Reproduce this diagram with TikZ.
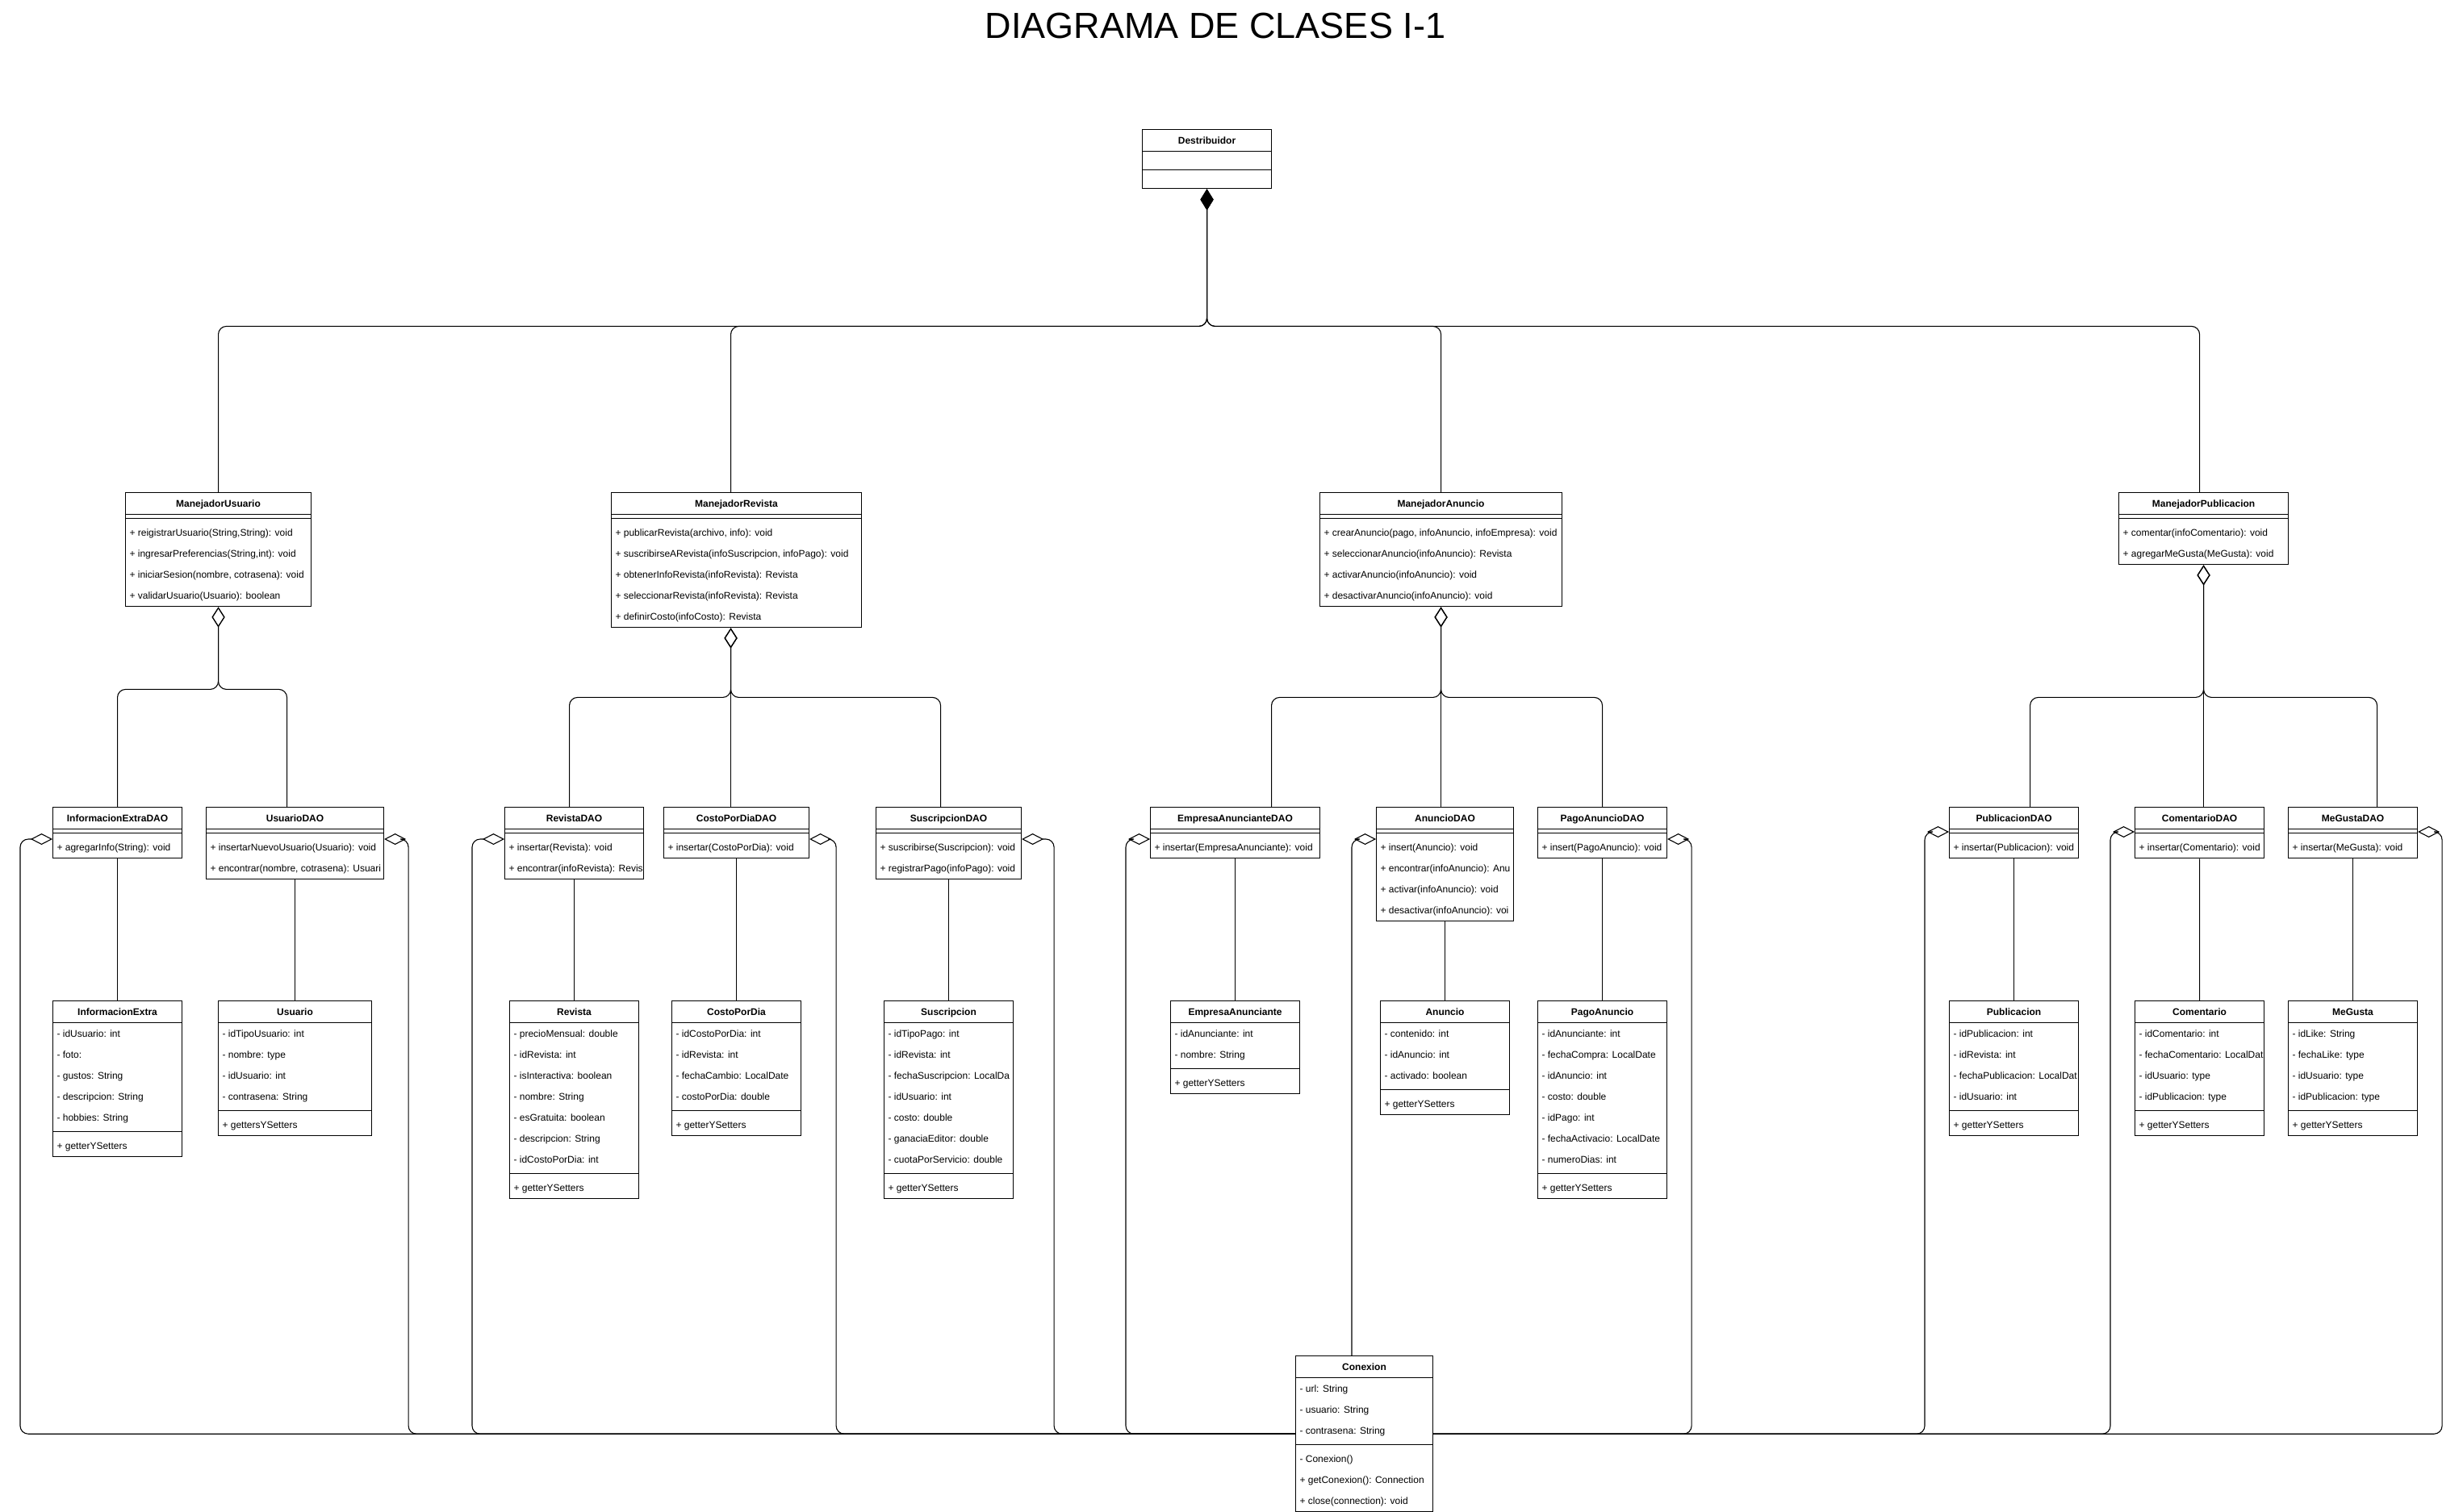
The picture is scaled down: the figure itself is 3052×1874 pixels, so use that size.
\documentclass[tikz,border=0pt]{standalone}
\usepackage{fontspec}
\setmainfont{Liberation Sans}
\usepackage{tikz}
\usetikzlibrary{arrows.meta, positioning, shapes.multipart, calc}

% row heights of a class box: 26 per row, 4 of padding at each side of the separator
\newcommand{\rowstrut}{\rule[-9pt]{0pt}{26pt}}
\newcommand{\firststrut}{\rule[-9pt]{0pt}{30pt}}
\newcommand{\laststrut}{\rule[-13pt]{0pt}{30pt}}
\newcommand{\sepstrut}{\rule{0pt}{4pt}}

\tikzset{
  class/.style={draw, line width=1.1pt, rectangle split, rectangle split parts=3,
    rectangle split ignore empty parts=false,
    rectangle split part align={center, left, left},
    align=left, anchor=north west, inner xsep=5pt, inner ysep=0pt,
    font=\fontsize{12pt}{26pt}\selectfont},
  link/.style={line width=1.1pt},
  bus/.style={link, rounded corners=10pt},
  aggregation/.style={bus, {Diamond[open, length=25pt, width=16pt]}-},
  daoagg/.style={bus, {Diamond[open, length=27pt, width=14pt]}-},
  composition/.style={bus, {Diamond[length=26pt, width=16pt]}-},
}

\begin{document}
\begin{tikzpicture}[x=1pt, y=-1pt]
  \useasboundingbox (0,0) rectangle (3052,1874);
  \node[font=\fontsize{45pt}{50pt}\selectfont, anchor=base] (title) at (1506,47) {DIAGRAMA DE CLASES I-1};

  \node[class, minimum width=160pt] (des) at (1415,160) {\textbf{Destribuidor}\rowstrut
    \nodepart{two}\rule{0pt}{22pt} \nodepart{three}\rule{0pt}{22pt}};

  % managers
  \node[class, minimum width=230pt] (mu) at (155,610) {\textbf{ManejadorUsuario}\rowstrut
    \nodepart{two}\sepstrut
    \nodepart{three}\firststrut + reigistrarUsuario(String,String): void\\
      + ingresarPreferencias(String,int): void\\
      + iniciarSesion(nombre, cotrasena): void\\
      + validarUsuario(Usuario): boolean\rowstrut};
  \node[class, minimum width=310pt] (mr) at (757,610) {\textbf{ManejadorRevista}\rowstrut
    \nodepart{two}\sepstrut
    \nodepart{three}\firststrut + publicarRevista(archivo, info): void\\
      + suscribirseARevista(infoSuscripcion, infoPago): void\\
      + obtenerInfoRevista(infoRevista): Revista\\
      + seleccionarRevista(infoRevista): Revista\\
      + definirCosto(infoCosto): Revista\rowstrut};
  \node[class, minimum width=300pt] (ma) at (1635,610) {\textbf{ManejadorAnuncio}\rowstrut
    \nodepart{two}\sepstrut
    \nodepart{three}\firststrut + crearAnuncio(pago, infoAnuncio, infoEmpresa): void\\
      + seleccionarAnuncio(infoAnuncio): Revista\\
      + activarAnuncio(infoAnuncio): void\\
      + desactivarAnuncio(infoAnuncio): void\rowstrut};
  \node[class, minimum width=210pt] (mp) at (2625,610) {\textbf{ManejadorPublicacion}\rowstrut
    \nodepart{two}\sepstrut
    \nodepart{three}\firststrut + comentar(infoComentario): void\\
      + agregarMeGusta(MeGusta): void\rowstrut};

  % DAOs
  \node[class, minimum width=160pt] (ied) at (65,1000) {\textbf{InformacionExtraDAO}\rowstrut
    \nodepart{two}\sepstrut \nodepart{three}\firststrut + agregarInfo(String): void};
  \node[class, minimum width=220pt] (ud) at (255,1000) {\textbf{UsuarioDAO}\rowstrut
    \nodepart{two}\sepstrut
    \nodepart{three}\firststrut + insertarNuevoUsuario(Usuario): void\\
      \rlap{+ encontrar(nombre, cotrasena): Usuari}\rowstrut};
  \node[class, minimum width=172pt] (rd) at (625,1000) {\textbf{RevistaDAO}\rowstrut
    \nodepart{two}\sepstrut
    \nodepart{three}\firststrut + insertar(Revista): void\\
      \rlap{+ encontrar(infoRevista): Revis}\rowstrut};
  \node[class, minimum width=180pt] (cd) at (822,1000) {\textbf{CostoPorDiaDAO}\rowstrut
    \nodepart{two}\sepstrut \nodepart{three}\firststrut + insertar(CostoPorDia): void};
  \node[class, minimum width=180pt] (sd) at (1085,1000) {\textbf{SuscripcionDAO}\rowstrut
    \nodepart{two}\sepstrut
    \nodepart{three}\firststrut + suscribirse(Suscripcion): void\\
      + registrarPago(infoPago): void\rowstrut};
  \node[class, minimum width=210pt] (ead) at (1425,1000) {\textbf{EmpresaAnuncianteDAO}\rowstrut
    \nodepart{two}\sepstrut \nodepart{three}\firststrut + insertar(EmpresaAnunciante): void};
  \node[class, minimum width=170pt] (ad) at (1705,1000) {\textbf{AnuncioDAO}\rowstrut
    \nodepart{two}\sepstrut
    \nodepart{three}\firststrut + insert(Anuncio): void\\
      \rlap{+ encontrar(infoAnuncio): Anu}\\
      + activar(infoAnuncio): void\\
      \rlap{+ desactivar(infoAnuncio): voi}\rowstrut};
  \node[class, minimum width=160pt] (pad) at (1905,1000) {\textbf{PagoAnuncioDAO}\rowstrut
    \nodepart{two}\sepstrut \nodepart{three}\firststrut + insert(PagoAnuncio): void};
  \node[class, minimum width=160pt] (pd) at (2415,1000) {\textbf{PublicacionDAO}\rowstrut
    \nodepart{two}\sepstrut \nodepart{three}\firststrut + insertar(Publicacion): void};
  \node[class, minimum width=160pt] (cod) at (2645,1000) {\textbf{ComentarioDAO}\rowstrut
    \nodepart{two}\sepstrut \nodepart{three}\firststrut + insertar(Comentario): void};
  \node[class, minimum width=160pt] (mgd) at (2835,1000) {\textbf{MeGustaDAO}\rowstrut
    \nodepart{two}\sepstrut \nodepart{three}\firststrut + insertar(MeGusta): void};

  % entities
  \node[class, minimum width=160pt] (ie) at (65,1240) {\textbf{InformacionExtra}\rowstrut
    \nodepart{two}\rowstrut - idUsuario: int\\ - foto:\\ - gustos: String\\
      - descripcion: String\\ - hobbies: String\laststrut
    \nodepart{three}\firststrut + getterYSetters};
  \node[class, minimum width=190pt] (u) at (270,1240) {\textbf{Usuario}\rowstrut
    \nodepart{two}\rowstrut - idTipoUsuario: int\\ - nombre: type\\ - idUsuario: int\\
      - contrasena: String\laststrut
    \nodepart{three}\firststrut + gettersYSetters};
  \node[class, minimum width=160pt] (r) at (631,1240) {\textbf{Revista}\rowstrut
    \nodepart{two}\rowstrut - precioMensual: double\\ - idRevista: int\\ - isInteractiva: boolean\\
      - nombre: String\\ - esGratuita: boolean\\ - descripcion: String\\ - idCostoPorDia: int\laststrut
    \nodepart{three}\firststrut + getterYSetters};
  \node[class, minimum width=160pt] (c) at (832,1240) {\textbf{CostoPorDia}\rowstrut
    \nodepart{two}\rowstrut - idCostoPorDia: int\\ - idRevista: int\\ - fechaCambio: LocalDate\\
      - costoPorDia: double\laststrut
    \nodepart{three}\firststrut + getterYSetters};
  \node[class, minimum width=160pt] (s) at (1095,1240) {\textbf{Suscripcion}\rowstrut
    \nodepart{two}\rowstrut - idTipoPago: int\\ - idRevista: int\\ \rlap{- fechaSuscripcion: LocalDa}\\
      - idUsuario: int\\ - costo: double\\ - ganaciaEditor: double\\ - cuotaPorServicio: double\laststrut
    \nodepart{three}\firststrut + getterYSetters};
  \node[class, minimum width=160pt] (ea) at (1450,1240) {\textbf{EmpresaAnunciante}\rowstrut
    \nodepart{two}\rowstrut - idAnunciante: int\\ - nombre: String\laststrut
    \nodepart{three}\firststrut + getterYSetters};
  \node[class, minimum width=160pt] (an) at (1710,1240) {\textbf{Anuncio}\rowstrut
    \nodepart{two}\rowstrut - contenido: int\\ - idAnuncio: int\\ - activado: boolean\laststrut
    \nodepart{three}\firststrut + getterYSetters};
  \node[class, minimum width=160pt] (pa) at (1905,1240) {\textbf{PagoAnuncio}\rowstrut
    \nodepart{two}\rowstrut - idAnunciante: int\\ - fechaCompra: LocalDate\\ - idAnuncio: int\\
      - costo: double\\ - idPago: int\\ - fechaActivacio: LocalDate\\ - numeroDias: int\laststrut
    \nodepart{three}\firststrut + getterYSetters};
  \node[class, minimum width=160pt] (p) at (2415,1240) {\textbf{Publicacion}\rowstrut
    \nodepart{two}\rowstrut - idPublicacion: int\\ - idRevista: int\\ \rlap{- fechaPublicacion: LocalDat}\\
      - idUsuario: int\laststrut
    \nodepart{three}\firststrut + getterYSetters};
  \node[class, minimum width=160pt] (co) at (2645,1240) {\textbf{Comentario}\rowstrut
    \nodepart{two}\rowstrut - idComentario: int\\ \rlap{- fechaComentario: LocalDat}\\ - idUsuario: type\\
      - idPublicacion: type\laststrut
    \nodepart{three}\firststrut + getterYSetters};
  \node[class, minimum width=160pt] (mg) at (2835,1240) {\textbf{MeGusta}\rowstrut
    \nodepart{two}\rowstrut - idLike: String\\ - fechaLike: type\\ - idUsuario: type\\
      - idPublicacion: type\laststrut
    \nodepart{three}\firststrut + getterYSetters};

  \node[class, minimum width=170pt] (cx) at (1605,1680) {\textbf{Conexion}\rowstrut
    \nodepart{two}\rowstrut - url: String\\ - usuario: String\\ - contrasena: String\laststrut
    \nodepart{three}\firststrut - Conexion()\\ + getConexion(): Connection\\
      + close(connection): void\rowstrut};

  % Destribuidor -> managers
  \draw[composition] (des.south) -- ++(0,170) -| (mu.north);
  \draw[composition] (des.south) -- ++(0,170) -| ([xshift=-7pt]mr.north);
  \draw[composition] (des.south) -- ++(0,170) -| (ma.north);
  \draw[composition] (des.south) -- ++(0,170) -| ([xshift=-5pt]mp.north);

  % managers -> DAOs
  \draw[aggregation] (mu.south) -- ++(0,102) -| (ied.north);
  \draw[aggregation] (mu.south) -- ++(0,102) -| ([xshift=-10pt]ud.north);
  \draw[aggregation] ([xshift=-7pt]mr.south) -- ++(0,86) -| ([xshift=-6pt]rd.north);
  \draw[aggregation] ([xshift=-7pt]mr.south) -- ([xshift=-7pt]mr.south |- cd.north);
  \draw[aggregation] ([xshift=-7pt]mr.south) -- ++(0,86) -| ([xshift=-10pt]sd.north);
  \draw[aggregation] (ma.south) -- ++(0,112) -| ([xshift=45pt]ead.north);
  \draw[aggregation] (ma.south) -- (ma.south |- ad.north);
  \draw[aggregation] (ma.south) -- ++(0,112) -| (pad.north);
  \draw[aggregation] (mp.south) -- ++(0,164) -| ([xshift=20pt]pd.north);
  \draw[aggregation] (mp.south) -- (mp.south |- cod.north);
  \draw[aggregation] (mp.south) -- ++(0,164) -| ([xshift=30pt]mgd.north);

  % DAOs -> entities
  \draw[link] (ied.south) -- (ie.north);
  \draw[link] (ud.south) -- (u.north);
  \draw[link] (rd.south) -- (r.north);
  \draw[link] (cd.south) -- (c.north);
  \draw[link] (sd.south) -- (s.north);
  \draw[link] (ead.south) -- (ea.north);
  \draw[link] (ad.south) -- (an.north);
  \draw[link] (pad.south) -- (pa.north);
  \draw[link] (pd.south) -- (p.north);
  \draw[link] (cod.south) -- (co.north);
  \draw[link] (mgd.south) -- (mg.north);

  % DAOs -> Conexion
  \draw[daoagg] ([yshift=-40pt]ied.north west) -- ++(-40,0) |- (cx.west);
  \draw[daoagg] ([yshift=-40pt]ud.north east) -- ++(30,0) |- (cx.west);
  \draw[daoagg] ([yshift=-40pt]rd.north west) -- ++(-40,0) |- (cx.west);
  \draw[daoagg] ([yshift=-40pt]cd.north east) -- ++(33,0) |- (cx.west);
  \draw[daoagg] ([yshift=-40pt]sd.north east) -- ++(40,0) |- (cx.west);
  \draw[daoagg] ([yshift=-40pt]ead.north west) -- ++(-30,0) |- (cx.west);
  \draw[daoagg] ([yshift=-40pt]ad.north west) -| ([xshift=70pt]cx.north west);
  \draw[daoagg] ([yshift=-40pt]pad.north east) -- ++(30,0) |- (cx.east);
  \draw[daoagg] ([yshift=-31pt]pd.north west) -- ++(-30,0) |- (cx.east);
  \draw[daoagg] ([yshift=-31pt]cod.north west) -- ++(-30,0) |- (cx.east);
  \draw[daoagg] ([yshift=-31pt]mgd.north east) -- ++(30,0) |- (cx.east);
\end{tikzpicture}
\end{document}
